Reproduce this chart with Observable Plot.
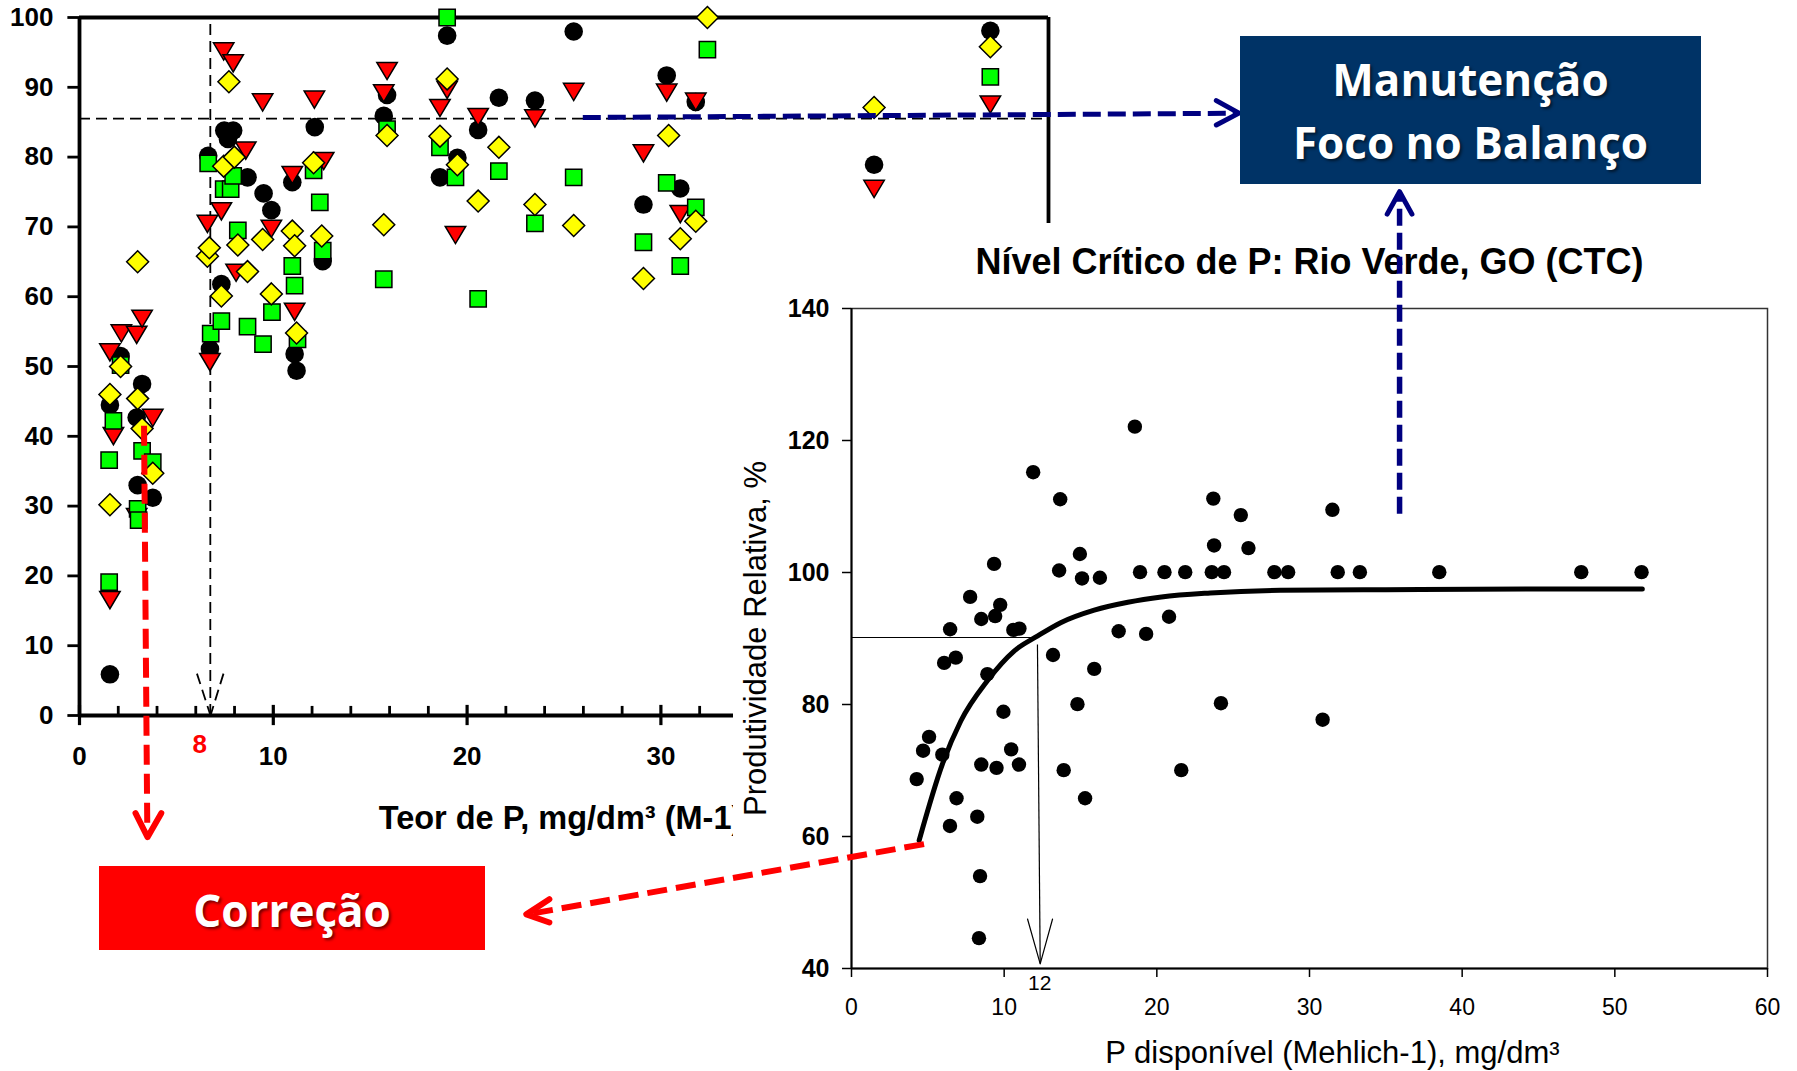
<!DOCTYPE html>
<html>
<head>
<meta charset="utf-8">
<script src="https://cdn.jsdelivr.net/npm/d3@7"></script>
<script src="https://cdn.jsdelivr.net/npm/@observablehq/plot@0.6"></script>
<style>
  html, body { margin: 0; padding: 0; background: #fff; }
  #stage { position: relative; width: 1797px; height: 1071px; overflow: hidden; background: #fff; }
  #left { position: absolute; left: 0; top: 0; width: 1797px; height: 1071px; }
  #right { position: absolute; left: 733px; top: 223px; width: 1064px; height: 848px; }
  .box { position: absolute; }
  .box .ln { position: absolute; left: 0; right: 0; text-align: center; color: #fff;
    font-family: "Open Sans", sans-serif; font-weight: 700; font-size: 44px; line-height: 44px;
    text-shadow: 2px 2px 3px rgba(0,0,0,0.55); white-space: nowrap; }
</style>
</head>
<body>
<div id="stage">
  <div id="left"></div>
  <div id="right"></div>
  <div class="box" style="left:1240px;top:36px;width:461px;height:148px;background:#003366;">
    <div class="ln" style="top:21px;">Manutenção</div>
    <div class="ln" style="top:84px;">Foco no Balanço</div>
  </div>
  <div class="box" style="left:99px;top:866px;width:386px;height:84px;background:#ff0000;">
    <div class="ln" style="top:22px;">Correção</div>
  </div>
</div>
<script>
// ---------- LEFT CHART DATA (Teor de P vs produtividade) ----------
const leftCircles = [[1.57,5.9],[1.57,44.5],[2.12,51.5],[2.95,42.7],[3.0,33.0],[3.23,47.5],[3.78,31.2],
  [6.64,80.2],[6.73,52.5],[7.32,61.8],[7.47,83.8],[7.66,82.6],[7.93,83.8],[8.67,77.1],[9.5,74.8],[9.9,72.4],
  [10.98,76.4],[11.1,51.8],[11.2,49.4],[12.14,84.3],[12.55,65.1],[15.7,85.9],[15.87,88.9],[18.6,77.1],
  [18.97,97.4],[19.5,79.9],[20.57,83.9],[21.64,88.5],[23.5,88.1],[25.5,98.0],[29.1,73.2],[30.3,91.7],
  [31.0,75.5],[31.8,87.9],[41.0,78.9],[47.0,98.1]];
const leftTriangles = [[1.57,16.7],[1.75,40.2],[1.57,52.2],[2.16,54.9],[2.95,54.7],[3.23,57.0],[3.78,42.8],[2.95,28.6],
  [6.6,70.6],[6.73,50.8],[7.32,72.4],[7.44,95.3],[7.93,93.6],[8.08,63.6],[8.58,81.1],[9.45,88.0],[9.9,69.9],
  [10.98,77.6],[11.1,58.0],[12.12,88.4],[12.6,79.6],[15.7,89.3],[15.87,92.5],[18.6,87.2],[18.97,89.8],
  [19.4,69.0],[20.57,85.9],[23.5,85.7],[25.5,89.5],[29.1,80.7],[30.3,89.4],[31.0,72.0],[31.8,88.1],
  [41.0,75.6],[47.0,87.7]];
const leftSquares = [[1.53,19.1],[1.53,36.6],[1.75,42.2],[2.12,50.2],[3.0,29.6],[3.05,28.0],[3.23,37.9],[3.78,36.3],
  [6.64,79.1],[6.77,54.7],[7.32,56.5],[7.44,75.4],[7.8,75.4],[7.93,77.3],[8.17,69.5],[8.67,55.7],[9.47,53.2],
  [9.93,57.8],[10.98,64.4],[11.1,61.6],[11.25,53.9],[12.08,78.1],[12.4,73.5],[12.55,66.6],[15.7,62.5],
  [15.87,84.0],[18.6,81.4],[18.97,100],[19.4,77.1],[20.57,59.7],[21.64,78.0],[23.5,70.5],[25.5,77.1],
  [29.1,67.8],[30.3,76.3],[31.0,64.4],[31.8,72.8],[32.4,95.4],[47.0,91.5]];
const leftDiamonds = [[1.57,30.2],[1.57,46.0],[2.12,50.0],[3.0,65.0],[3.0,45.4],[3.23,41.1],[3.78,34.7],
  [6.6,65.8],[6.7,67.0],[7.32,60.1],[7.44,78.7],[7.71,90.8],[7.99,80.0],[8.17,67.4],[8.67,63.6],[9.45,68.2],
  [9.9,60.4],[10.98,69.4],[11.1,67.3],[11.2,54.8],[12.08,79.2],[12.5,68.7],[15.7,70.3],[15.87,83.1],
  [18.6,83.0],[18.97,91.2],[19.5,78.9],[20.57,73.7],[21.64,81.4],[23.5,73.2],[25.5,70.2],[29.1,62.6],
  [30.4,83.1],[31.0,68.3],[31.8,70.8],[32.4,100.0],[41.0,87.1],[47.0,95.8]];
const leftXTicks = [0, 10, 20, 30];
const leftXMajorMarks = [0, 10, 20, 30, 40, 50];
const leftXMinor = [2, 4, 6, 8, 12, 14, 16, 18, 22, 24, 26, 28, 32, 34, 36, 38, 42, 44, 46, 48];
const leftYTicks = [0, 10, 20, 30, 40, 50, 60, 70, 80, 90, 100];
const leftCritical = {x: 6.75, y: 85.5, label: "8", labelX: 6.2, labelY: -4.2};
const leftXTitle = "Teor de P, mg/dm³ (M-1)";
const leftXTitlePos = {x: 15.44, y: -16.2};

// ---------- RIGHT CHART DATA (Nível crítico) ----------
const rightPoints = [[4.27,68.7],[4.69,73.0],[5.08,75.1],[5.95,72.4],[6.07,86.3],[6.45,61.6],[6.46,91.4],[6.83,87.1],
  [6.88,65.8],[7.77,96.3],[8.24,63.0],[8.35,44.6],[8.42,54.0],[8.5,92.95],[8.5,70.9],[8.9,84.6],[9.34,101.3],
  [9.41,93.4],[9.5,70.4],[9.74,95.1],[9.95,78.9],[10.46,73.2],[10.6,91.3],[10.97,70.9],[11.0,91.5],[11.9,115.2],
  [13.2,87.5],[13.6,100.3],[13.67,111.1],[13.9,70.05],[14.8,80.05],[14.96,102.8],[15.1,99.1],[15.3,65.8],
  [15.9,85.4],[16.27,99.2],[17.5,91.1],[18.56,122.1],[18.9,100.05],[19.3,90.7],[20.5,100.05],[20.8,93.3],
  [21.6,70.05],[21.86,100.05],[23.6,100.05],[23.7,111.2],[23.75,104.1],[24.2,80.2],[24.4,100.05],[25.5,108.7],
  [26.0,103.7],[27.7,100.05],[28.6,100.05],[30.86,77.7],[31.5,109.5],[31.85,100.05],[33.3,100.05],[38.5,100.05],
  [47.8,100.05],[51.75,100.05]];
const rightCurve = [[4.43,59.4],[5.96,71.0],[7.16,77.5],[8.9,83.6],[10.65,88.1],[12.2,90.4],[13.7,92.4],[15.9,94.3],
  [18.1,95.5],[20.3,96.3],[23.5,96.9],[28.1,97.3],[35,97.4],[45,97.5],[51.8,97.5]];
const rightXTicks = [0, 10, 20, 30, 40, 50, 60];
const rightYTicks = [40, 60, 80, 100, 120, 140];
const rightCritical = {x: 12.2, y: 90.15, label: "12", labelX: 12.33};
const rightTitle = "Nível Crítico de P: Rio Verde, GO (CTC)";
const rightXTitle = "P disponível (Mehlich-1), mg/dm³";
const rightYTitle = "Produtividade Relativa, %";

// ---------- ANNOTATION ARROWS (in data units of the chart they sit on) ----------
const critLeftHead = [[6.06,6.0],[6.76,0],[7.43,6.0]];
const navyHShaft = [{x1: 25.97, y1: 85.67, x2: 59.6, y2: 86.28}];
const navyHHead = [[58.66,88.1],[59.83,86.3],[58.66,84.6]];
const redVShaft = [{x1: 3.33, y1: 41.5, x2: 3.5, y2: -17.0}];
const redVHead = [[2.89,-14.0],[3.51,-17.43],[4.22,-14.0]];
const rightRefH = [{x1: 0, y1: 90.15, x2: 11.75, y2: 90.15}];
const rightRefV = [{x1: 12.18, y1: 89.1, x2: 12.36, y2: 40.75}];
const rightRefHead = [[11.53,47.5],[12.36,40.7],[13.17,47.5]];
const redDShaft = [{x1: 4.75, y1: 58.85, x2: -21.0, y2: 48.3}];
const redDHead = [[-19.79,50.5],[-21.3,48.2],[-19.79,46.97]];
const navyVShaft = [{x1: 35.9, y1: 108.9, x2: 35.9, y2: 157.4}];
const navyVHead = [[35.09,154.3],[35.9,157.7],[36.71,154.3]];

// ---------- custom marker symbols ----------
const symSquare = {draw(ctx, size) { const r = Math.sqrt(size / Math.PI), s = 1.75 * r; ctx.rect(-s/2, -s/2, s, s); }};
const symDiamond = {draw(ctx, size) { const r = Math.sqrt(size / Math.PI), h = 1.18 * r;
  ctx.moveTo(0, -h); ctx.lineTo(h, 0); ctx.lineTo(0, h); ctx.lineTo(-h, 0); ctx.closePath(); }};
const symTriDown = {draw(ctx, size) { const r = Math.sqrt(size / Math.PI), w = 1.1 * r;
  ctx.moveTo(-w, -0.8 * r); ctx.lineTo(w, -0.8 * r); ctx.lineTo(0, 1.05 * r); ctx.closePath(); }};

const FONT = "'Liberation Sans', Arial, sans-serif";
const px = d => d[0], py = d => d[1];

// ---------- LEFT PLOT ----------
const left = Plot.plot({
  width: 1797, height: 1071,
  marginLeft: 79, marginRight: 749, marginTop: 17, marginBottom: 356,
  x: {domain: [0, 50]}, y: {domain: [0, 100]},
  style: {overflow: "visible", background: "transparent", fontFamily: FONT, maxWidth: "none"},
  marks: [
    Plot.ruleY([leftCritical.y], {x1: 0, x2: 50, stroke: "black", strokeWidth: 1.8, strokeDasharray: "11,6"}),
    Plot.ruleX([leftCritical.x], {y1: 0, y2: 100, stroke: "black", strokeWidth: 1.8, strokeDasharray: "11,6"}),
    Plot.link([{x1: critLeftHead[0][0], y1: critLeftHead[0][1], x2: critLeftHead[1][0], y2: critLeftHead[1][1]},
               {x1: critLeftHead[2][0], y1: critLeftHead[2][1], x2: critLeftHead[1][0], y2: critLeftHead[1][1]}],
      {x1: "x1", y1: "y1", x2: "x2", y2: "y2", stroke: "black", strokeWidth: 1.8, strokeDasharray: "11,6"}),
    // frame / axes
    Plot.ruleX([0], {y1: 0, y2: 100, stroke: "black", strokeWidth: 3.8}),
    Plot.ruleX([50], {y1: 0, y2: 100, stroke: "black", strokeWidth: 3.8}),
    Plot.ruleY([0], {x1: 0, x2: 50, stroke: "black", strokeWidth: 3.8}),
    Plot.ruleY([100], {x1: 0, x2: 50, stroke: "black", strokeWidth: 3.8}),
    Plot.ruleX(leftXMajorMarks, {y1: -1.45, y2: 1.45, stroke: "black", strokeWidth: 3.2}),
    Plot.ruleX(leftXMinor, {y1: 0, y2: 1.3, stroke: "black", strokeWidth: 2.8}),
    Plot.ruleY(leftYTicks, {x1: -0.6, x2: 0, stroke: "black", strokeWidth: 2.8}),
    Plot.axisY({ticks: leftYTicks, tickSize: 0, tickPadding: 26, fontSize: 26, fontWeight: "bold", label: null, fill: "black"}),
    Plot.axisX({ticks: leftXTicks, tickSize: 0, tickPadding: 31, fontSize: 26, fontWeight: "bold", label: null, fill: "black"}),
    Plot.text([leftCritical.label], {x: leftCritical.labelX, y: leftCritical.labelY, fill: "#ff0000", fontSize: 26, fontWeight: "bold"}),
    Plot.text([leftXTitle], {x: leftXTitlePos.x, y: leftXTitlePos.y, textAnchor: "start", lineAnchor: "bottom", fontSize: 32.5, fontWeight: "bold", fill: "black"}),
    // data
    Plot.dot(leftCircles, {x: px, y: py, r: 9.3, fill: "black"}),
    Plot.dot(leftTriangles, {x: px, y: py, r: 9.3, symbol: symTriDown, fill: "#ff0000", stroke: "black", strokeWidth: 1.5}),
    Plot.dot(leftSquares, {x: px, y: py, r: 9.3, symbol: symSquare, fill: "#00ff00", stroke: "black", strokeWidth: 1.5}),
    Plot.dot(leftDiamonds, {x: px, y: py, r: 9.3, symbol: symDiamond, fill: "#ffff00", stroke: "black", strokeWidth: 1.5}),
    // arrows
    Plot.link(redVShaft, {x1: "x1", y1: "y1", x2: "x2", y2: "y2", stroke: "#ff0000", strokeWidth: 6, strokeDasharray: "20,9"}),
    Plot.line(redVHead, {x: px, y: py, stroke: "#ff0000", strokeWidth: 6, strokeLinecap: "round", strokeLinejoin: "round"}),
    Plot.link(navyHShaft, {x1: "x1", y1: "y1", x2: "x2", y2: "y2", stroke: "#000080", strokeWidth: 5, strokeDasharray: "18,7"}),
    Plot.line(navyHHead, {x: px, y: py, stroke: "#000080", strokeWidth: 5, strokeLinecap: "round", strokeLinejoin: "round"})
  ]
});
document.getElementById("left").appendChild(left);

// ---------- RIGHT PLOT ----------
const right = Plot.plot({
  width: 1064, height: 848,
  marginLeft: 118, marginRight: 30, marginTop: 85, marginBottom: 103,
  x: {domain: [0, 60]}, y: {domain: [40, 140]},
  style: {overflow: "visible", background: "white", fontFamily: FONT, maxWidth: "none"},
  marks: [
    Plot.frame({stroke: "#333", strokeWidth: 1.5}),
    Plot.ruleX([0], {stroke: "black", strokeWidth: 2}),
    Plot.ruleY([40], {stroke: "black", strokeWidth: 2}),
    Plot.axisY({ticks: rightYTicks, tickSize: 9, tickPadding: 13, fontSize: 25, fontWeight: "bold", label: null, fill: "black", strokeWidth: 1.5}),
    Plot.axisX({ticks: rightXTicks, tickSize: 9, tickPadding: 21, fontSize: 23, label: null, fill: "black", strokeWidth: 1.5}),
    Plot.text([rightTitle], {frameAnchor: "top", lineAnchor: "middle", dy: -46, fontSize: 36, fontWeight: "bold", fill: "black"}),
    Plot.text([rightYTitle], {frameAnchor: "left", textAnchor: "middle", lineAnchor: "middle", dx: -95, rotate: -90, fontSize: 31, fill: "black"}),
    Plot.text([rightXTitle], {x: 31.5, frameAnchor: "bottom", lineAnchor: "middle", dy: 85, fontSize: 31, fill: "black"}),
    Plot.text([rightCritical.label], {x: rightCritical.labelX, frameAnchor: "bottom", lineAnchor: "middle", dy: 15, fontSize: 21, fill: "black"}),
    Plot.link(rightRefH, {x1: "x1", y1: "y1", x2: "x2", y2: "y2", stroke: "black", strokeWidth: 1.2}),
    Plot.link(rightRefV, {x1: "x1", y1: "y1", x2: "x2", y2: "y2", stroke: "black", strokeWidth: 1.2}),
    Plot.line(rightRefHead, {x: px, y: py, stroke: "black", strokeWidth: 1.2}),
    Plot.line(rightCurve, {x: px, y: py, stroke: "black", strokeWidth: 5, curve: "monotone-x"}),
    Plot.dot(rightPoints, {x: px, y: py, r: 7.2, fill: "black"}),
    Plot.link(redDShaft, {x1: "x1", y1: "y1", x2: "x2", y2: "y2", stroke: "#ff0000", strokeWidth: 6, strokeDasharray: "20,9"}),
    Plot.line(redDHead, {x: px, y: py, stroke: "#ff0000", strokeWidth: 6, strokeLinecap: "round", strokeLinejoin: "round"}),
    Plot.link(navyVShaft, {x1: "x1", y1: "y1", x2: "x2", y2: "y2", stroke: "#000080", strokeWidth: 5.5, strokeDasharray: "17,7"}),
    Plot.line(navyVHead, {x: px, y: py, stroke: "#000080", strokeWidth: 5, strokeLinecap: "round", strokeLinejoin: "round"})
  ]
});
document.getElementById("right").appendChild(right);
</script>
</body>
</html>
